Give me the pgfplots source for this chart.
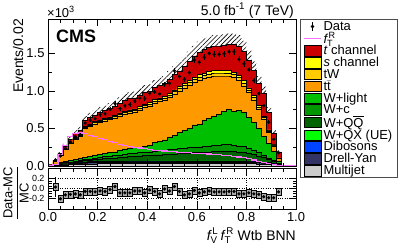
\documentclass[border=0pt]{standalone}
\usepackage{pgfplots}
\pgfplotsset{compat=1.18}
\usepackage{pgfplotstable}
\usetikzlibrary{patterns.meta}
\usepackage{amsmath}
\usepackage{fontspec}
\setmainfont{Liberation Sans}

\definecolor{tch}{RGB}{204,0,0}
\definecolor{sch}{RGB}{255,255,0}
\definecolor{twc}{RGB}{255,204,0}
\definecolor{ttc}{RGB}{255,153,0}
\definecolor{wlc}{RGB}{0,190,0}
\definecolor{wcc}{RGB}{0,150,0}
\definecolor{qqc}{RGB}{0,100,0}
\definecolor{uxc}{RGB}{0,255,0}
\definecolor{dbc}{RGB}{0,68,255}
\definecolor{dyc}{RGB}{51,51,102}
\definecolor{mjc}{RGB}{204,204,204}
\definecolor{pinkc}{RGB}{255,110,255}
\definecolor{bandc}{RGB}{170,170,170}

\newcommand\tfont{\fontsize{13}{13}\selectfont}

% cumulative stack levels (x = left bin edge), in units of 10^3 events
\pgfplotstableread{
x mj dy db ux qq wc wl tt tw sc tc
0.00 0.002 0.003 0.003 0.004 0.005 0.006 0.008 0.015 0.016 0.016 0.020
0.02 0.006 0.009 0.010 0.012 0.017 0.020 0.030 0.060 0.062 0.064 0.080
0.04 0.010 0.015 0.017 0.020 0.029 0.035 0.045 0.140 0.144 0.148 0.170
0.06 0.015 0.023 0.025 0.030 0.039 0.045 0.060 0.220 0.227 0.232 0.270
0.08 0.019 0.029 0.032 0.038 0.048 0.055 0.075 0.300 0.309 0.316 0.360
0.10 0.023 0.034 0.037 0.045 0.057 0.065 0.090 0.360 0.371 0.380 0.440
0.12 0.025 0.038 0.042 0.050 0.063 0.072 0.100 0.400 0.412 0.422 0.480
0.14 0.028 0.041 0.046 0.055 0.073 0.085 0.120 0.500 0.515 0.527 0.610
0.16 0.029 0.044 0.048 0.058 0.080 0.095 0.130 0.530 0.546 0.559 0.650
0.18 0.030 0.045 0.050 0.060 0.087 0.105 0.150 0.560 0.577 0.591 0.680
0.20 0.031 0.047 0.052 0.062 0.094 0.115 0.160 0.580 0.598 0.612 0.720
0.22 0.031 0.047 0.052 0.062 0.100 0.125 0.170 0.600 0.619 0.633 0.740
0.24 0.032 0.047 0.052 0.063 0.103 0.130 0.180 0.620 0.639 0.655 0.770
0.26 0.032 0.047 0.052 0.063 0.109 0.140 0.190 0.640 0.660 0.676 0.800
0.28 0.032 0.048 0.053 0.064 0.116 0.150 0.210 0.670 0.691 0.708 0.840
0.30 0.032 0.048 0.053 0.064 0.122 0.160 0.230 0.690 0.712 0.730 0.880
0.32 0.033 0.049 0.054 0.065 0.125 0.165 0.240 0.710 0.733 0.750 0.900
0.34 0.033 0.049 0.054 0.065 0.128 0.170 0.250 0.720 0.743 0.761 0.910
0.36 0.033 0.050 0.055 0.066 0.134 0.180 0.250 0.750 0.774 0.793 0.950
0.38 0.033 0.050 0.055 0.066 0.137 0.185 0.260 0.780 0.805 0.825 0.990
0.40 0.034 0.050 0.056 0.067 0.141 0.190 0.280 0.800 0.825 0.845 1.000
0.42 0.034 0.050 0.056 0.067 0.147 0.200 0.320 0.840 0.866 0.887 1.050
0.44 0.034 0.051 0.056 0.068 0.150 0.205 0.330 0.860 0.887 0.909 1.080
0.46 0.034 0.051 0.056 0.068 0.153 0.210 0.350 0.880 0.908 0.930 1.100
0.48 0.034 0.051 0.056 0.068 0.159 0.220 0.390 0.920 0.949 0.972 1.160
0.50 0.035 0.052 0.057 0.069 0.163 0.225 0.410 0.960 0.991 1.015 1.220
0.52 0.035 0.052 0.057 0.069 0.169 0.235 0.450 1.000 1.032 1.057 1.270
0.54 0.035 0.053 0.058 0.070 0.172 0.240 0.480 1.040 1.073 1.100 1.330
0.56 0.035 0.053 0.058 0.070 0.175 0.245 0.500 1.080 1.115 1.143 1.400
0.58 0.035 0.053 0.058 0.070 0.178 0.250 0.550 1.120 1.157 1.186 1.470
0.60 0.035 0.053 0.058 0.070 0.181 0.255 0.560 1.150 1.188 1.218 1.520
0.62 0.035 0.053 0.058 0.070 0.184 0.260 0.610 1.170 1.209 1.240 1.560
0.64 0.035 0.053 0.058 0.070 0.190 0.270 0.640 1.190 1.230 1.261 1.580
0.66 0.035 0.053 0.058 0.070 0.193 0.275 0.660 1.200 1.240 1.272 1.600
0.68 0.035 0.053 0.058 0.070 0.196 0.280 0.690 1.200 1.240 1.272 1.600
0.70 0.035 0.053 0.058 0.070 0.199 0.285 0.730 1.200 1.240 1.272 1.610
0.72 0.035 0.053 0.058 0.070 0.199 0.285 0.760 1.200 1.241 1.273 1.620
0.74 0.035 0.053 0.058 0.070 0.196 0.280 0.730 1.180 1.221 1.253 1.620
0.76 0.035 0.053 0.058 0.070 0.190 0.270 0.740 1.140 1.180 1.212 1.600
0.78 0.035 0.053 0.058 0.070 0.184 0.260 0.720 1.070 1.108 1.139 1.530
0.80 0.034 0.051 0.056 0.068 0.171 0.240 0.650 0.980 1.015 1.043 1.410
0.82 0.033 0.049 0.054 0.065 0.152 0.210 0.580 0.880 0.912 0.938 1.280
0.84 0.030 0.045 0.050 0.060 0.132 0.180 0.500 0.760 0.788 0.810 1.100
0.86 0.028 0.041 0.046 0.055 0.112 0.150 0.400 0.620 0.644 0.664 0.970
0.88 0.023 0.034 0.037 0.045 0.084 0.110 0.300 0.450 0.468 0.482 0.720
0.90 0.018 0.026 0.029 0.035 0.062 0.080 0.200 0.270 0.281 0.290 0.440
0.92 0.010 0.015 0.017 0.020 0.032 0.040 0.070 0.100 0.105 0.109 0.190
0.94 0.010 0.015 0.017 0.020 0.032 0.040 0.070 0.100 0.105 0.109 0.190
}\stack

\pgfplotstableread{
x f
0.00 0.005
0.02 0.02
0.04 0.15
0.06 0.27
0.08 0.39
0.10 0.43
0.12 0.44
0.14 0.43
0.16 0.41
0.18 0.39
0.20 0.37
0.22 0.35
0.24 0.33
0.26 0.31
0.28 0.29
0.30 0.27
0.32 0.26
0.34 0.25
0.36 0.24
0.38 0.23
0.40 0.22
0.42 0.21
0.44 0.205
0.46 0.20
0.48 0.195
0.50 0.19
0.52 0.185
0.54 0.18
0.56 0.175
0.58 0.17
0.60 0.17
0.62 0.165
0.64 0.16
0.66 0.155
0.68 0.15
0.70 0.145
0.72 0.14
0.74 0.13
0.76 0.12
0.78 0.11
0.80 0.10
0.82 0.08
0.84 0.06
0.86 0.045
0.88 0.03
0.90 0.02
0.92 0.01
0.94 0.004
0.96 0.002
0.98 0.001
1.00 0.001
}\fsig

\pgfplotstableread{
x d e r re
0.03 0.082 0.010 0.03 0.20
0.05 0.134 0.012 -0.21 0.07
0.07 0.235 0.016 -0.13 0.06
0.09 0.317 0.018 -0.12 0.05
0.11 0.392 0.020 -0.11 0.045
0.13 0.418 0.020 -0.13 0.04
0.15 0.573 0.024 -0.06 0.04
0.17 0.611 0.025 -0.06 0.04
0.19 0.632 0.025 -0.07 0.037
0.21 0.684 0.026 -0.05 0.036
0.23 0.696 0.027 -0.06 0.036
0.25 0.755 0.028 -0.02 0.036
0.27 0.832 0.029 0.04 0.036
0.29 0.764 0.028 -0.09 0.033
0.31 0.801 0.029 -0.09 0.033
0.33 0.819 0.029 -0.09 0.032
0.35 0.865 0.030 -0.05 0.033
0.37 0.903 0.030 -0.05 0.032
0.39 0.901 0.030 -0.09 0.030
0.41 0.970 0.031 -0.03 0.031
0.43 0.987 0.032 -0.06 0.030
0.45 0.961 0.031 -0.11 0.029
0.47 1.089 0.033 -0.01 0.030
0.49 1.102 0.033 -0.05 0.029
0.51 1.269 0.036 0.04 0.029
0.53 1.194 0.035 -0.06 0.027
0.55 1.157 0.034 -0.13 0.026
0.57 1.246 0.035 -0.11 0.025
0.59 1.411 0.038 -0.04 0.026
0.61 1.383 0.037 -0.09 0.024
0.63 1.451 0.038 -0.07 0.024
0.65 1.501 0.039 -0.05 0.025
0.67 1.488 0.039 -0.07 0.024
0.69 1.488 0.039 -0.07 0.024
0.71 1.497 0.039 -0.07 0.024
0.73 1.523 0.039 -0.06 0.024
0.75 1.523 0.039 -0.06 0.024
0.77 1.424 0.038 -0.11 0.024
0.79 1.362 0.037 -0.11 0.024
0.81 1.283 0.036 -0.09 0.026
0.83 1.139 0.034 -0.11 0.027
0.85 0.968 0.031 -0.12 0.028
0.87 0.805 0.028 -0.17 0.029
0.89 0.583 0.024 -0.19 0.033
0.91 0.356 0.019 -0.19 0.043
0.93 0.177 0.013 -0.07 0.07
}\data

\pgfplotsset{
  lbox/.style={legend image code/.code={\draw[fill=#1,draw=black,line width=0.5bp] (0bp,-5.3bp) rectangle (17bp,5.3bp);}},
  stk/.style={forget plot, const plot mark left, fill=#1, draw=black, line width=0.5bp},
  /pgf/number format/assume math mode=true,
}

\begin{document}
\begin{tikzpicture}
\path[use as bounding box] (0,0) rectangle (407bp,-248bp);
\begin{axis}[
  at={(48bp,-19bp)}, anchor=north west,
  width=248bp, height=147bp, scale only axis,
  xmin=0, xmax=1, ymin=0, ymax=1.96,
  xtick={0,0.2,0.4,0.6,0.8,1}, xticklabels={},
  minor x tick num=3,
  ytick={0,0.5,1,1.5}, minor y tick num=1,
  yticklabel style={font=\tfont, /pgf/number format/fixed, /pgf/number format/fixed zerofill, /pgf/number format/precision=1},
  tick align=inside, major tick length=7bp, minor tick length=3.5bp,
  axis line style={line width=0.8bp}, tick style={line width=0.6bp, black},
  axis on top,
  legend style={at={(1,1)}, anchor=north west, xshift=4bp, draw=black!70, line width=0.8bp, fill=white,
    font=\fontsize{13}{14}\selectfont, inner xsep=3bp, inner ysep=1bp, row sep=-0.9bp,
    nodes={inner ysep=0.9bp}, cells={anchor=west}},
  legend cell align=left,
]
\addlegendimage{legend image code/.code={\path (0bp,0bp) (17bp,0bp); \draw[black,line width=0.6bp] (8.5bp,-4.5bp) -- (8.5bp,4.5bp); \fill[black] (8.5bp,0bp) circle (1.4bp);}}
\addlegendentry{Data}
\addlegendimage{legend image code/.code={\draw[pinkc,line width=1.2bp] (0bp,0bp) -- (17bp,0bp);}}
\addlegendentry{$\mathit{f}^{\,\mathrm{R}}_{\mathrm{T}}$}
\addlegendimage{lbox=tch}\addlegendentry{\textit{t} channel}
\addlegendimage{lbox=sch}\addlegendentry{\textit{s} channel}
\addlegendimage{lbox=twc}\addlegendentry{tW}
\addlegendimage{lbox=ttc}\addlegendentry{t$\bar{\mathrm{t}}$}
\addlegendimage{lbox=wlc}\addlegendentry{W+light}
\addlegendimage{lbox=wcc}\addlegendentry{W+c}
\addlegendimage{lbox=qqc}\addlegendentry{W+Q$\overline{\mathrm{Q}}$}
\addlegendimage{lbox=uxc}\addlegendentry{W+QX (UE)}
\addlegendimage{lbox=dbc}\addlegendentry{Dibosons}
\addlegendimage{lbox=dyc}\addlegendentry{Drell-Yan}
\addlegendimage{lbox=mjc}\addlegendentry{Multijet}

% MC uncertainty band (hatched), lower part hidden below the stack
\addplot[forget plot, const plot mark left, draw=none, pattern={Lines[angle=45,distance=3.2bp,line width=0.6bp]}, pattern color=black]
  table[x=x,y expr=1.09*\thisrow{tc}]{\stack} \closedcycle;

\addplot[stk=tch] table[x=x,y=tc]{\stack} \closedcycle;
\addplot[stk=sch] table[x=x,y=sc]{\stack} \closedcycle;
\addplot[stk=twc] table[x=x,y=tw]{\stack} \closedcycle;
\addplot[stk=ttc] table[x=x,y=tt]{\stack} \closedcycle;
\addplot[stk=wlc] table[x=x,y=wl]{\stack} \closedcycle;
\addplot[stk=wcc] table[x=x,y=wc]{\stack} \closedcycle;
\addplot[stk=qqc] table[x=x,y=qq]{\stack} \closedcycle;
\addplot[stk=uxc] table[x=x,y=ux]{\stack} \closedcycle;
\addplot[stk=dbc] table[x=x,y=db]{\stack} \closedcycle;
\addplot[stk=dyc] table[x=x,y=dy]{\stack} \closedcycle;
\addplot[stk=mjc] table[x=x,y=mj]{\stack} \closedcycle;

\addplot[forget plot, const plot mark left, pinkc, line width=1.2bp] table[x=x,y=f]{\fsig};

\addplot[forget plot, only marks, mark=*, mark size=1.4bp, black,
  error bars/.cd, y dir=both, y explicit, error mark=none, error bar style={line width=0.6bp, black}]
  table[x=x,y=d,y error=e]{\data};
\end{axis}

\begin{axis}[
  at={(48bp,-168bp)}, anchor=north west,
  width=248bp, height=41bp, scale only axis,
  xmin=0, xmax=1, ymin=-0.42, ymax=0.42,
  xtick={0,0.2,0.4,0.6,0.8,1}, minor x tick num=3,
  ytick={-0.2,0,0.2}, minor y tick num=3,
  xticklabel style={font=\tfont, /pgf/number format/fixed, /pgf/number format/fixed zerofill, /pgf/number format/precision=1},
  yticklabel style={font=\fontsize{9}{9}\selectfont, /pgf/number format/fixed, /pgf/number format/fixed zerofill, /pgf/number format/precision=1},
  tick align=inside, major tick length=7bp, minor tick length=3.5bp,
  axis line style={line width=0.8bp}, tick style={line width=0.6bp, black},
  grid=major, major grid style={dotted, black, line width=0.6bp},
  axis on top,
]
% MC uncertainty boxes (about +-0.075) around each ratio point
\addplot[only marks, mark=square*, mark size=2.48bp, mark options={yscale=1.47, draw=none, fill=bandc}]
  table[x=x,y=r]{\data};
\addplot[only marks, mark=*, mark size=1.4bp, black,
  error bars/.cd, y dir=both, y explicit, error mark=none, error bar style={line width=0.6bp, black}]
  table[x=x,y=r,y error=re]{\data};
\end{axis}

\node[anchor=base west, inner sep=0pt, font=\bfseries\fontsize{18}{18}\selectfont] at (56bp,-42bp) {CMS};
\node[anchor=base east, inner sep=0pt, font=\fontsize{14}{14}\selectfont] at (294bp,-15bp) {5.0 fb\textsuperscript{-1} (7 TeV)};
\node[anchor=base west, inner sep=0pt, font=\fontsize{13}{13}\selectfont] at (47bp,-17bp) {×10\textsuperscript{3}};
\node[rotate=90, anchor=base east, inner sep=0pt, font=\fontsize{14}{14}\selectfont] at (23bp,-19bp) {Events/0.02};
\node[rotate=90, inner sep=0pt, font=\fontsize{13}{13}\selectfont] at (16bp,-193bp) {$\dfrac{\text{Data-MC}}{\text{MC}}$};
\node[anchor=base east, inner sep=0pt, font=\fontsize{14}{14}\selectfont] at (296bp,-240bp) {$\mathit{f}^{\,\mathrm{L}}_{\mathrm{V}}\,\mathit{f}^{\,\mathrm{R}}_{\mathrm{T}}$ Wtb BNN};
\end{tikzpicture}
\end{document}
